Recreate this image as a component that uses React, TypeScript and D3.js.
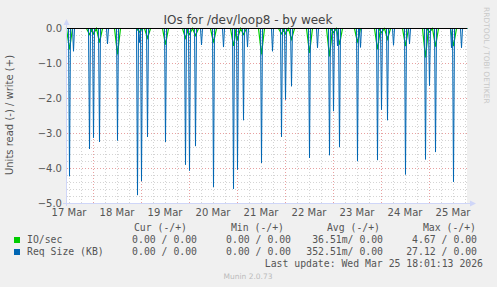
import React from 'react';
import * as d3 from 'd3';

// Spike samples (30-min averages), read side shown as negative values
const reqTimes = [
  "2026-03-17 12:00", "2026-03-17 14:00", "2026-03-17 22:00", "2026-03-18 00:00", "2026-03-18 03:00",
  "2026-03-18 07:00", "2026-03-18 12:00", "2026-03-18 22:00", "2026-03-18 23:00", "2026-03-19 00:00",
  "2026-03-19 03:00", "2026-03-19 12:00", "2026-03-19 22:00", "2026-03-20 00:00", "2026-03-20 03:00",
  "2026-03-20 06:00", "2026-03-20 12:00", "2026-03-20 17:00", "2026-03-20 22:00", "2026-03-21 00:00",
  "2026-03-21 03:00", "2026-03-21 05:00", "2026-03-21 12:00", "2026-03-21 17:30", "2026-03-21 22:00",
  "2026-03-22 00:00", "2026-03-22 03:00", "2026-03-22 12:00", "2026-03-22 16:00", "2026-03-22 22:00",
  "2026-03-23 00:00", "2026-03-23 02:00", "2026-03-23 03:00", "2026-03-23 12:00", "2026-03-23 13:30",
  "2026-03-23 22:00", "2026-03-24 00:00", "2026-03-24 03:00", "2026-03-24 06:00", "2026-03-24 12:00",
  "2026-03-24 14:00", "2026-03-24 22:00", "2026-03-25 00:00", "2026-03-25 03:00", "2026-03-25 11:00",
  "2026-03-25 12:00", "2026-03-25 16:00",
];
const reqValues = [
  4.22, 0.65, 3.44, 3.12, 3.24,
  0.44, 3.20, 4.76, 0.40, 4.36,
  3.10, 3.24, 3.89, 4.06, 3.36,
  0.47, 4.53, 0.53, 4.58, 4.03,
  2.62, 0.53, 3.84, 0.65, 3.10,
  2.03, 1.65, 3.70, 0.55, 3.62,
  2.36, 0.50, 3.39, 3.79, 0.54,
  3.76, 2.32, 2.62, 0.48, 4.17,
  0.44, 3.74, 1.63, 3.53, 0.55,
  4.38, 0.55,
];
const ioTimes = [
  "2026-03-17 12:00", "2026-03-17 22:00", "2026-03-18 00:00", "2026-03-18 03:00", "2026-03-18 12:00",
  "2026-03-18 23:00", "2026-03-19 03:00", "2026-03-19 12:00", "2026-03-19 22:00", "2026-03-20 00:00",
  "2026-03-20 03:00", "2026-03-20 12:00", "2026-03-20 22:00", "2026-03-21 00:00", "2026-03-21 03:00",
  "2026-03-21 12:00", "2026-03-21 22:00", "2026-03-22 00:00", "2026-03-22 03:00", "2026-03-22 12:00",
  "2026-03-22 22:00", "2026-03-23 00:00", "2026-03-23 03:00", "2026-03-23 12:00", "2026-03-23 22:00",
  "2026-03-24 00:00", "2026-03-24 03:00", "2026-03-24 12:00", "2026-03-24 22:00", "2026-03-25 00:00",
  "2026-03-25 03:00", "2026-03-25 12:00",
];
const ioValues = [
  0.60, 0.17, 0.15, 0.40, 0.74,
  0.10, 0.27, 0.46, 0.27, 0.17,
  0.20, 0.40, 0.50, 0.30, 0.17,
  0.74, 0.15, 0.15, 0.31, 0.70,
  0.80, 0.12, 0.46, 0.40, 0.60,
  0.12, 0.30, 0.50, 0.83, 0.10,
  0.52, 0.50,
];

const yTicks = [0, -1, -2, -3, -4, -5];
const xLabels = ["17 Mar", "18 Mar", "19 Mar", "20 Mar", "21 Mar", "22 Mar", "23 Mar", "24 Mar", "25 Mar"];
const xLabelDays = ["2026-03-17 12:00", "2026-03-18 12:00", "2026-03-19 12:00", "2026-03-20 12:00", "2026-03-21 12:00", "2026-03-22 12:00", "2026-03-23 12:00", "2026-03-24 12:00", "2026-03-25 12:00"];
const legendHeaders = ["Cur (-/+)", "Min (-/+)", "Avg (-/+)", "Max (-/+)"];
const seriesNames = ["IO/sec", "Req Size (KB)"];
const seriesColors = ["#00CC00", "#0066B3"];
const seriesStats = [
  ["0.00 / 0.00", "0.00 / 0.00", "36.51m/ 0.00", "4.67 / 0.00"],
  ["0.00 / 0.00", "0.00 / 0.00", "352.51m/ 0.00", "27.12 / 0.00"],
];
const domainStart = "2026-03-17 11:00";
const domainEnd = "2026-03-25 19:00";

const parse = d3.timeParse("%Y-%m-%d %H:%M");

export default function App() {
  const W = 497, H = 287;
  const left = 67, right = 467, top = 28, bottom = 203;
  const t0 = parse(domainStart)!, t1 = parse(domainEnd)!;
  const x = d3.scaleTime().domain([t0, t1]).range([left, right]);
  const y = d3.scaleLinear().domain([-5, 0]).range([bottom, top]);

  const spikePath = (times: string[], vals: number[], halfMin: number) => {
    const half = halfMin * 60 * 1000;
    const pts: [Date, number][] = [[t0, 0]];
    times.forEach((s, i) => {
      const t = parse(s)!;
      pts.push([new Date(+t - half), 0], [t, -vals[i]], [new Date(+t + half), 0]);
    });
    pts.push([t1, 0]);
    return d3.line<[Date, number]>().x(d => x(d[0]) + 0.5).y(d => y(d[1]) + 0.5)(pts) || "";
  };

  const minorX = d3.timeHour.every(6)!.range(t0, t1).filter(d => d.getHours() !== 0);
  const majorX = d3.timeDay.range(t0, t1);
  const minorY = d3.range(-50, 1, 2).map(v => v / 10).filter(v => Math.abs(v - Math.round(v)) > 1e-6);

  const font = "DejaVu Sans, sans-serif";
  const mono = "DejaVu Sans Mono, monospace";
  const txt = "#555";

  const colRight = [197, 291, 383, 477];
  const headRight = [187, 284, 380, 476];

  return (
    <svg width={W} height={H} style={{ position: "absolute", left: 0, top: 0, background: "#F0F0F0" }}>
      <rect x={0} y={0} width={W} height={H} fill="#F0F0F0" />
      <rect x={left} y={top} width={right - left} height={bottom - top} fill="#FFFFFF" />
      {/* minor grid */}
      {minorX.map((d, i) => (
        <line key={"mx" + i} x1={Math.round(x(d)) + 0.5} x2={Math.round(x(d)) + 0.5} y1={top} y2={bottom}
          stroke="#D4D4D4" strokeWidth={1} strokeDasharray="1,2" />
      ))}
      {minorY.map((v, i) => (
        <line key={"my" + i} x1={left} x2={right} y1={Math.round(y(v)) + 0.5} y2={Math.round(y(v)) + 0.5}
          stroke="#D4D4D4" strokeWidth={1} strokeDasharray="1,2" />
      ))}
      {/* major grid */}
      {majorX.map((d, i) => (
        <line key={"Mx" + i} x1={Math.round(x(d)) + 0.5} x2={Math.round(x(d)) + 0.5} y1={top} y2={bottom}
          stroke="#E8A0A0" strokeWidth={1} strokeDasharray="1,2" />
      ))}
      {yTicks.map((v, i) => (
        <line key={"My" + i} x1={left} x2={right} y1={Math.round(y(v)) + 0.5} y2={Math.round(y(v)) + 0.5}
          stroke="#E8A0A0" strokeWidth={1} strokeDasharray="1,2" />
      ))}
      {/* series */}
      <path d={spikePath(ioTimes, ioValues, 90)} fill="none" stroke={seriesColors[0]} strokeWidth={1.2} />
      <path d={spikePath(reqTimes, reqValues, 30)} fill="none" stroke={seriesColors[1]} strokeWidth={1} />
      <line x1={left} x2={right} y1={top + 0.5} y2={top + 0.5} stroke="#000" strokeWidth={1} />
      {/* axes */}
      <line x1={left - 0.5} x2={left - 0.5} y1={bottom + 3} y2={top - 4} stroke="#CFD6F8" strokeWidth={1} />
      <line x1={left - 4} x2={right + 4} y1={bottom + 0.5} y2={bottom + 0.5} stroke="#CFD6F8" strokeWidth={1} />
      <path d={`M${left - 3.5},${top - 3} L${left - 0.5},${top - 9} L${left + 2.5},${top - 3} Z`} fill="#CFD6F8" />
      <path d={`M${right + 3},${bottom - 2.5} L${right + 9},${bottom + 0.5} L${right + 3},${bottom + 3.5} Z`} fill="#CFD6F8" />
      {/* y tick labels */}
      {yTicks.map((v, i) => (
        <text key={"yl" + i} x={62} y={y(v) + 3.5} textAnchor="end" fontFamily={font} fontSize={10} fill={txt}>
          {d3.format(".1f")(v)}
        </text>
      ))}
      {/* x labels */}
      {xLabels.map((s, i) => (
        <text key={"xl" + i} x={x(parse(xLabelDays[i])!)} y={216} textAnchor="middle" fontFamily={font} fontSize={10} fill={txt}>
          {s}
        </text>
      ))}
      {/* title */}
      <text x={248} y={24} textAnchor="middle" fontFamily={font} fontSize={12} fill="#444">IOs for /dev/loop8 - by week</text>
      {/* y axis title */}
      <text transform={`translate(13,${115}) rotate(-90)`} textAnchor="middle" fontFamily={font} fontSize={10} fill={txt}>
        Units read (-) / write (+)
      </text>
      {/* rrdtool credit */}
      <text transform={`translate(484,7) rotate(90)`} textAnchor="start" fontFamily={font} fontSize={7.5} fill="#C8C8C8">
        RRDTOOL / TOBI OETIKER
      </text>
      {/* legend */}
      {legendHeaders.map((h, i) => (
        <text key={"lh" + i} x={headRight[i]} y={231} textAnchor="end" fontFamily={mono} fontSize={9.8} fill={txt} style={{ whiteSpace: "pre" }}>
          {h}
        </text>
      ))}
      {seriesNames.map((n, r) => (
        <g key={"row" + r}>
          <rect x={14} y={237 + r * 12} width={6} height={6} fill={seriesColors[r]} />
          <text x={27} y={243 + r * 12} fontFamily={mono} fontSize={9.8} fill={txt} style={{ whiteSpace: "pre" }}>{n}</text>
          {seriesStats[r].map((s, c) => (
            <text key={"v" + c} x={colRight[c]} y={243 + r * 12} textAnchor="end" fontFamily={mono} fontSize={9.8} fill={txt} style={{ whiteSpace: "pre" }}>
              {s}
            </text>
          ))}
        </g>
      ))}
      <text x={483} y={267} textAnchor="end" fontFamily={mono} fontSize={9.8} fill={txt} style={{ whiteSpace: "pre" }}>
        Last update: Wed Mar 25 18:01:13 2026
      </text>
      <text x={248} y={279} textAnchor="middle" fontFamily={font} fontSize={7.5} fill="#BBBBBB">Munin 2.0.73</text>
    </svg>
  );
}
